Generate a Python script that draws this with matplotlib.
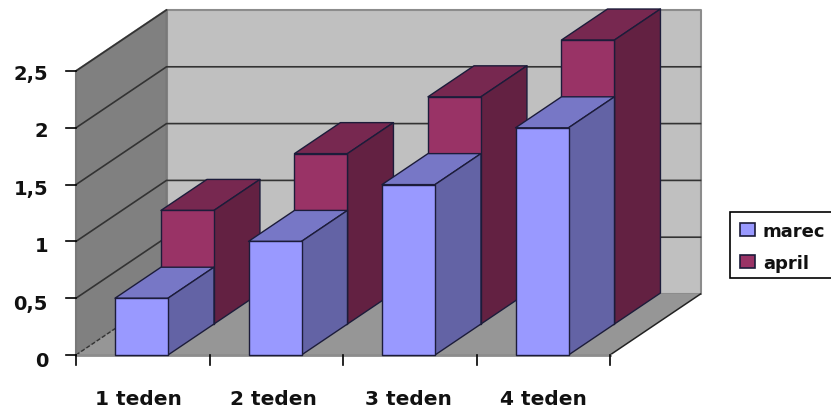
# Stacked-depth 3D column chart, drawn by hand on a 2D axes
import matplotlib
matplotlib.use('Agg')
import matplotlib.pyplot as plt
from matplotlib.patches import Polygon, Rectangle

plt.rcParams['font.family'] = 'DejaVu Sans'
plt.rcParams['font.weight'] = 'bold'

# Data
weeks = ['1 teden', '2 teden', '3 teden', '4 teden']
marec = [0.5, 1.0, 1.5, 2.0]
april = [1.0, 1.5, 2.0, 2.5]
y_ticks = [0, 0.5, 1, 1.5, 2, 2.5]
y_labels = ['0', '0,5', '1', '1,5', '2', '2,5']

# Oblique projection, in pixels
X0, Y0 = 76, 355        # front left corner of the floor
CAT_W = 133.5           # width of one category
UNIT = 113.6            # pixels per 1.0 on the value axis
DX, DY = 90.5, -61      # offset from front to back of the floor
BAR_L, BAR_R = 39, 92   # bar edges within a category


def proj(x, value, depth):
    return (X0 + x + DX * depth, Y0 - value * UNIT + DY * depth)


fig = plt.figure(figsize=(8.31, 4.12), dpi=100)
ax = fig.add_axes([0, 0, 1, 1])
ax.set_xlim(0, 831)
ax.set_ylim(412, 0)
ax.axis('off')

x_max = CAT_W * len(weeks)
v_max = y_ticks[-1]


def face(pts, color, edge='none', lw=0, z=1):
    ax.add_patch(Polygon(pts, closed=True, facecolor=color, edgecolor=edge,
                         linewidth=lw, joinstyle='round', zorder=z))


# Walls and floor
face([proj(0, 0, 1), proj(x_max, 0, 1), proj(x_max, v_max, 1), proj(0, v_max, 1)],
     '#C0C0C0', '#8c8c8c', 1.5)
face([proj(0, 0, 0), proj(0, 0, 1), proj(0, v_max, 1), proj(0, v_max, 0)],
     '#808080', '#787878', 1.5)
face([proj(0, 0, 0), proj(x_max, 0, 0), proj(x_max, 0, 1), proj(0, 0, 1)],
     '#969696')

# Gridlines run along the left wall, then across the back wall
for v in y_ticks[1:]:
    pts = [proj(0, v, 0), proj(0, v, 1)]
    if v < v_max:
        pts.append(proj(x_max, v, 1))
    ax.plot(*zip(*pts), color='#333333', lw=1.2, zorder=2)

# Floor edges
ax.plot(*zip(proj(0, 0, 0), proj(0, 0, 1)), color='#333333', lw=1, ls=(0, (3, 1.5)), zorder=2)
ax.plot(*zip(proj(x_max, 0, 0), proj(x_max, 0, 1)), color='#222222', lw=1.1, zorder=2)
ax.plot(*zip(proj(0, 0, 0), proj(x_max, 0, 0)), color='#8c8c8c', lw=2, zorder=2)


def column(i, value, d0, d1, front, top, side, z):
    x0 = CAT_W * i + BAR_L
    x1 = CAT_W * i + BAR_R
    edge = '#1c1c3a'
    face([proj(x0, value, d0), proj(x1, value, d0), proj(x1, value, d1), proj(x0, value, d1)],
         top, edge, 1.0, z)
    face([proj(x1, 0, d0), proj(x1, 0, d1), proj(x1, value, d1), proj(x1, value, d0)],
         side, edge, 1.0, z)
    face([proj(x0, 0, d0), proj(x1, 0, d0), proj(x1, value, d0), proj(x0, value, d0)],
         front, edge, 1.0, z)


# Back row first so the front row covers it
for i, v in enumerate(april):
    column(i, v, 0.508, 1.016, '#993366', '#772850', '#632142', 3)
for i, v in enumerate(marec):
    column(i, v, 0, 0.508, '#9999FF', '#7777C6', '#6363A5', 4)

# Value axis, labels sit on their own slightly wider baseline spacing
for v, lab in zip(y_ticks, y_labels):
    y = Y0 - v * UNIT
    ax.plot([X0 - 10, X0], [y, y], color='black', lw=1.2, zorder=5)
    ax.text(48, 367 - v * 114.8, lab, ha='right', va='baseline', fontsize=14, color='#111111')

# Category axis
for i in range(len(weeks) + 1):
    ax.plot([X0 + CAT_W * i] * 2, [Y0, Y0 + 10], color='black', lw=1.2, zorder=5)
for i, lab in enumerate(weeks):
    ax.text(138 + 135 * i, 405, lab, ha='center', va='baseline',
            fontsize=14.5, color='#111111')

# Legend
ax.add_patch(Rectangle((729.5, 212), 110, 66, facecolor='white', edgecolor='black',
                       linewidth=1.2, zorder=6))
for y, name, col in [(237, 'marec', '#9999FF'), (269, 'april', '#993366')]:
    ax.add_patch(Rectangle((739.5, y - 14), 15, 13, facecolor=col, edgecolor='#1c1c3a',
                           linewidth=1.2, zorder=7))
    ax.text(763, y, name, ha='left', va='baseline', fontsize=13, color='#111111', zorder=7)

fig.savefig('out.png', dpi=100)
